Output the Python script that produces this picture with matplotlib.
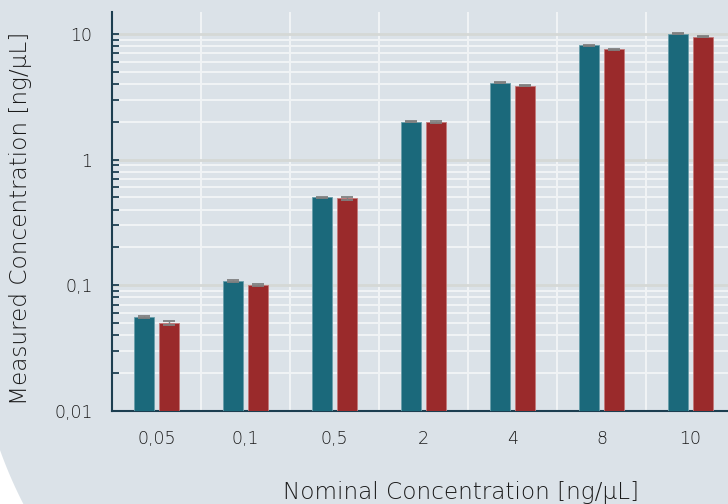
import numpy as np
import matplotlib
matplotlib.use("Agg")
import matplotlib.pyplot as plt
from matplotlib.patches import Polygon

# data
categories = ["0,05", "0,1", "0,5", "2", "4", "8", "10"]
teal_vals = [0.056, 0.108, 0.50, 2.0, 4.08, 8.1, 10.0]
red_vals = [0.0505, 0.100, 0.49, 2.0, 3.87, 7.5, 9.5]
teal_err = [0.0006, 0.0012, 0.005, 0.02, 0.04, 0.08, 0.10]
red_err = [0.0018, 0.0022, 0.010, 0.04, 0.05, 0.08, 0.12]
ytick_vals = [0.01, 0.1, 1, 10]
ytick_labels = ["0,01", "0,1", "1", "10"]

bg = "#dbe2e8"
teal = "#1b697b"
red = "#9a2a2b"
dark = "#1c3e50"
txt = "#1a1a1a"

plt.rcParams['font.family'] = ['DejaVu Sans']
plt.rcParams['font.weight'] = 'light'
plt.rcParams['axes.labelweight'] = 'light'

fig = plt.figure(figsize=(7.28, 5.04), dpi=100, facecolor=bg)

# white bottom-left corner outside the rounded background shape
cx, cy, r = 420, 300, 446
ys = np.linspace(448, 504, 40)
xs = cx - np.sqrt(r**2 - (ys - cy)**2)
pts = [(0, 448)] + list(zip(xs, ys)) + [(0, 504)]
pts = [(px / 728, 1 - py / 504) for px, py in pts]
fig.patches.append(Polygon(pts, closed=True, transform=fig.transFigure,
                           facecolor="white", edgecolor="none", zorder=0))

ax = fig.add_axes([112 / 728, 93 / 504, 623 / 728, 399 / 504])
ax.set_facecolor(bg)

x = np.arange(len(categories))
w = 0.225
off = 0.143
ax.bar(x - off, teal_vals, w, color=teal, edgecolor="#6a9eab", linewidth=0.6,
       yerr=teal_err, error_kw=dict(ecolor="#808080", capsize=4, elinewidth=1, capthick=1.3),
       zorder=3)
ax.bar(x + off, red_vals, w, color=red, edgecolor="#c47a7a", linewidth=0.6,
       yerr=red_err, error_kw=dict(ecolor="#808080", capsize=4, elinewidth=1, capthick=1.3),
       zorder=3)

ax.set_yscale('log')
ax.set_ylim(0.01, 14.9)
ax.set_xlim(-0.5, 6.5)

ax.set_yticks(ytick_vals)
ax.set_yticklabels(ytick_labels)
ax.set_xticks(x)
ax.set_xticklabels(categories)
ax.set_xticks(np.arange(-0.5, 6.6, 0.5), minor=True)

ax.grid(True, which='minor', axis='y', color='#f1f4f6', linewidth=1.4, zorder=1)
ax.grid(True, which='major', axis='y', color='#d5d8d6', linewidth=2, zorder=1)
ax.grid(True, which='minor', axis='x', color='#f1f4f6', linewidth=1.4, zorder=1)
ax.set_axisbelow(True)

ax.tick_params(axis='y', which='both', direction='in', length=5, width=1.3,
               color=dark, pad=14, labelsize=12.5, labelcolor=txt)
ax.tick_params(axis='x', which='both', length=0, pad=14, labelsize=12.5, labelcolor=txt)

for s in ['top', 'right']:
    ax.spines[s].set_visible(False)
for s in ['left', 'bottom']:
    ax.spines[s].set_color(dark)
    ax.spines[s].set_linewidth(1.5)

ax.set_xlabel("Nominal Concentration [ng/μL]", fontsize=16.7, color=txt)
ax.xaxis.set_label_coords(0.56, -0.176)
ax.set_ylabel("Measured Concentration [ng/μL]", fontsize=16.7, color=txt)
ax.yaxis.set_label_coords(-0.128, 0.484)

fig.savefig("out.png", dpi=100, facecolor=bg)
